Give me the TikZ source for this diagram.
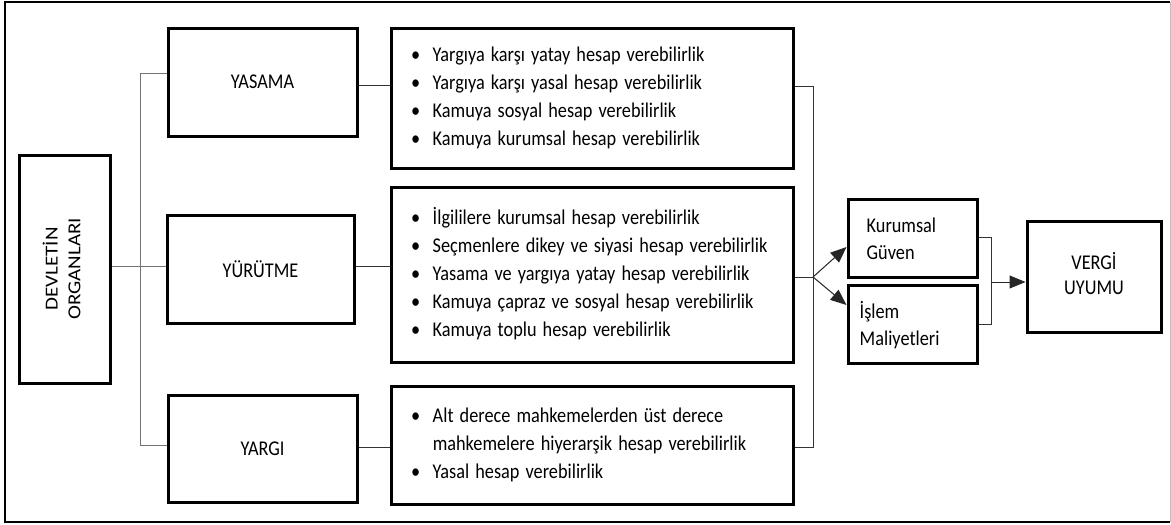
\documentclass[tikz,border=0pt]{standalone}
\usepackage{fontspec}
\setmainfont{Carlito}
\usetikzlibrary{arrows.meta}

% condensed text block
\newcommand{\nar}[1]{\scalebox{0.87}[1]{#1}}
\newcommand{\bl}{\makebox[25pt][l]{\textbullet}}

\begin{document}
\begin{tikzpicture}[x=1pt,y=-1pt,
  box/.style={draw, line width=3pt, inner sep=0pt, font=\fontsize{21}{28}\selectfont},
  listbox/.style={box, align=left, inner xsep=20pt, text width=#1},
  txt/.style={anchor=west, align=left, inner sep=0pt, font=\fontsize{21}{27}\selectfont},
  conn/.style={line width=1pt, black!80},
  lconn/.style={line width=1pt, black!55},
  tip/.style={-{Triangle[length=16pt,width=13pt]}, line width=1pt, black!85}]

\useasboundingbox (0,0) rectangle (1171,525);
\fill[white] (0,0) rectangle (1171,525);

% outer frame
\draw[line width=2pt] (1170,2) -- (5,2) -- (5,522) -- (1170,522);
\draw[black!25, line width=1pt] (1170,2) -- (1170,522);

% organs of the state
\node[box, minimum width=91pt, minimum height=228pt] (dev) at (64.5,269)
  {\nar{\rotatebox{90}{\fontsize{21}{26}\selectfont\begin{tabular}{@{}c@{}}DEVLETİN\\ORGANLARI\end{tabular}}}};

\node[box, minimum width=189pt, minimum height=108pt] (yas) at (262.5,82) {\nar{YASAMA}};
\node[box, minimum width=187pt, minimum height=108pt] (yur) at (260.5,269) {\nar{YÜRÜTME}};
\node[box, minimum width=189pt, minimum height=107pt] (yar) at (262.5,448.5) {\nar{YARGI}};

% accountability lists
\node[listbox=362pt, minimum height=140pt] (b1) at (592,98) {\nar{%
  \begin{tabular}{@{}l@{}l@{}}
  \bl & Yargıya karşı yatay hesap verebilirlik\\
  \bl & Yargıya karşı yasal hesap verebilirlik\\
  \bl & Kamuya sosyal hesap verebilirlik\\
  \bl & Kamuya kurumsal hesap verebilirlik
  \end{tabular}}};
\node[listbox=362pt, minimum height=175pt] (b2) at (592,274.5) {\nar{%
  \begin{tabular}{@{}l@{}l@{}}
  \bl & İlgililere kurumsal hesap verebilirlik\\
  \bl & Seçmenlere dikey ve siyasi hesap verebilirlik\\
  \bl & Yasama ve yargıya yatay hesap verebilirlik\\
  \bl & Kamuya çapraz ve sosyal hesap verebilirlik\\
  \bl & Kamuya toplu hesap verebilirlik
  \end{tabular}}};
\node[listbox=362pt, minimum height=118pt] (b3) at (592,445) {\nar{%
  \begin{tabular}{@{}l@{}l@{}}
  \bl & Alt derece mahkemelerden üst derece\\
      & mahkemelere hiyerarşik hesap verebilirlik\\
  \bl & Yasal hesap verebilirlik
  \end{tabular}}};

% outcomes
\node[box, minimum width=129pt, minimum height=78pt] (kur) at (912.5,238) {};
\node[txt] at ([xshift=20pt,yshift=-3pt]kur.west)
  {\nar{\begin{tabular}{@{}l@{}}Kurumsal\\Güven\end{tabular}}};
\node[box, minimum width=129pt, minimum height=78pt] (isl) at (912.5,324) {};
\node[txt] at ([xshift=13pt,yshift=-3pt]isl.west)
  {\nar{\begin{tabular}{@{}l@{}}İşlem\\Maliyetleri\end{tabular}}};
\node[box, minimum width=134pt, minimum height=111pt, font=\fontsize{21}{25}\selectfont]
  (ver) at (1094,276.5) {\raisebox{-3pt}{\nar{\begin{tabular}{@{}c@{}}VERGİ\\UYUMU\end{tabular}}}};

% left tree
\coordinate (trunk) at (140,266);
\draw[lconn] (dev.east |- trunk) -- (yur.west |- trunk);
\draw[lconn] ([yshift=9pt]yas.west) -| (trunk);
\draw[lconn] ([yshift=3.5pt]yar.west) -| (trunk);

% organs to lists
\draw[conn] ([yshift=-3pt]yas.east) -- ([yshift=-3pt]yas.east -| b1.west);
\draw[conn] ([yshift=3pt]yur.east) -- ([yshift=3pt]yur.east -| b2.west);
\draw[conn] ([yshift=1.5pt]yar.east) -- ([yshift=1.5pt]yar.east -| b3.west);

% lists to outcomes
\coordinate (fork) at (813,277);
\draw[conn] ([yshift=12pt]b1.east) -| (fork);
\draw[conn] ([yshift=-2pt]b3.east) -| (fork);
\draw[conn] (b2.east |- fork) -- (fork);
\draw[tip] (fork) -- ([yshift=-9pt]kur.west);
\draw[tip] (fork) -- ([yshift=19pt]isl.west);

% outcomes to compliance
\coordinate (join) at (991,282);
\draw[conn] ([yshift=1pt]kur.east) -| (join);
\draw[conn] (isl.east) -| (join);
\draw[tip] (join) -- (join -| ver.west);

\end{tikzpicture}
\end{document}
